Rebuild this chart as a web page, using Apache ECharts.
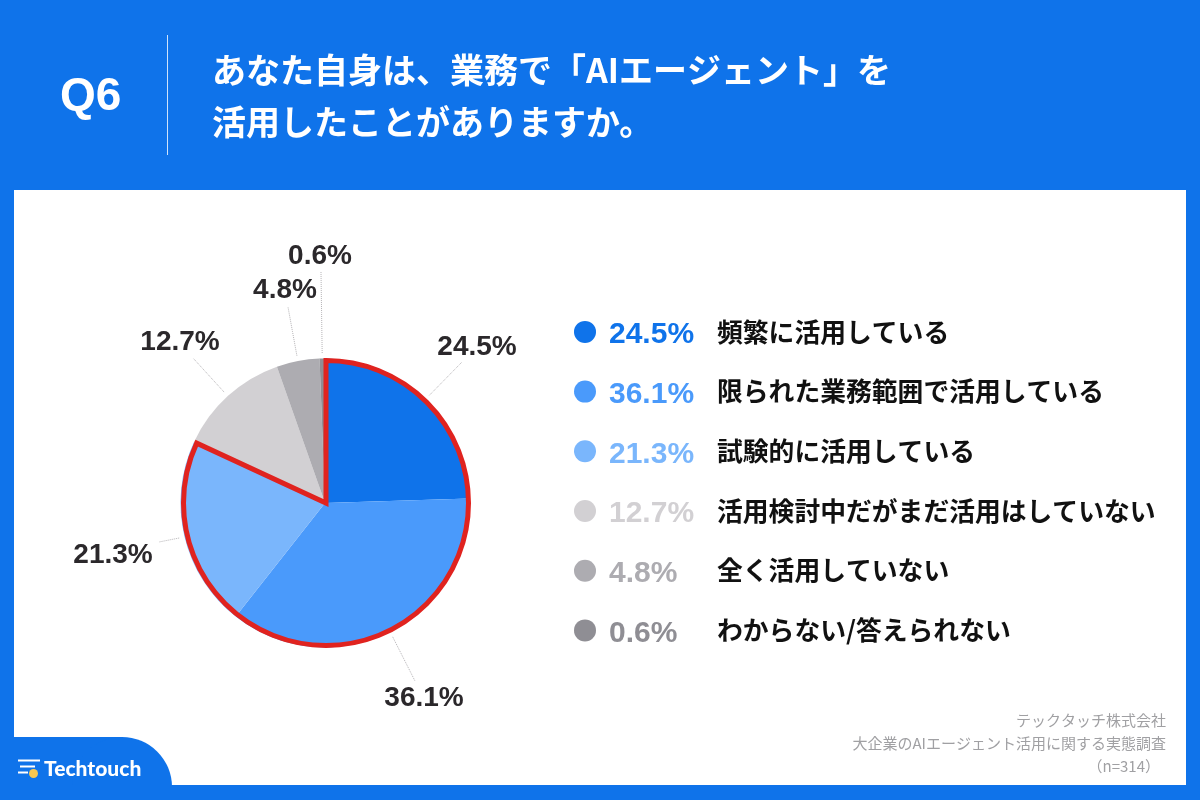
<!DOCTYPE html>
<html>
	<head>
		<meta charset="UTF-8">
		<title>Q6</title>
		<style>
			html, body { margin: 0; padding: 0; background: #0f73ea; }
			#main { width: 1200px; height: 800px; }
		</style>
	</head>
	<body>
		<div id="main"></div>
		<script src="https://cdn.jsdelivr.net/npm/echarts@6/dist/echarts.min.js"></script>
		<script type="text/javascript">
			// data
			var categories = ['頻繁に活用している', '限られた業務範囲で活用している', '試験的に活用している', '活用検討中だがまだ活用はしていない', '全く活用していない', 'わからない/答えられない'];
			var values = [24.5, 36.1, 21.3, 12.7, 4.8, 0.6];
			var colors = ['#0f73ea', '#4a9afb', '#7ab6fc', '#d2d0d3', '#adacb1', '#8f8e94'];
			// 赤枠で囲むのは先頭3項目
			var usingCount = 3;

			var FONT = '"Liberation Sans", "Noto Sans CJK JP", sans-serif';
			var JP = '"Noto Sans CJK JP", sans-serif';

			// ラベルの中心位置と引き出し線の終点
			var labelCenters = [[477, 347], [424, 698], [113, 555], [180, 342], [285, 290], [320, 256]];
			var lineEnds = [[462, 362], [415, 681], [159, 542], [193, 358], [288, 307], [321, 272]];

			var usingTotal = 0;
			for (var i = 0; i < usingCount; i++) usingTotal += values[i];
			var restTotal = 0;
			for (var j = usingCount; j < values.length; j++) restTotal += values[j];
			var allTotal = usingTotal + restTotal;

			var pieData = categories.map(function (name, i) {
				return { name: name, value: values[i], itemStyle: { color: colors[i] } };
			});

			// 扇形の中央角の方向から引き出し線の始点を求める
			function lineStart(idx) {
				var before = 0;
				for (var k = 0; k < idx; k++) before += values[k];
				var a = (before + values[idx] / 2) / allTotal * Math.PI * 2;
				return [325 + 150 * Math.sin(a), 503 - 150 * Math.cos(a)];
			}

			// 凡例の文字色は項目ごと
			var legendRich = { name: { fontFamily: JP, fontSize: 25.8, fontWeight: 'bold', color: '#111111' } };
			colors.forEach(function (c, i) {
				legendRich['p' + i] = { fontFamily: FONT, fontSize: 30, fontWeight: 'bold', color: c, width: 108, padding: [6, 0, 0, 8] };
			});

			var myChart = echarts.init(document.getElementById('main'));
			var option = {
				backgroundColor: '#0f73ea',
				animation: false,
				textStyle: { fontFamily: FONT },
				legend: {
					orient: 'vertical',
					left: 569,
					top: 314,
					itemWidth: 22,
					itemHeight: 22,
					itemGap: 28.8,
					icon: 'circle',
					selectedMode: false,
					data: categories,
					formatter: function (name) {
						var idx = categories.indexOf(name);
						return '{p' + idx + '|' + values[idx].toFixed(1) + '%}{name|' + name + '}';
					},
					textStyle: { rich: legendRich }
				},
				series: [
					{
						name: 'Q6',
						type: 'pie',
						center: [325, 503],
						radius: [0, 144.5],
						startAngle: 90,
						clockwise: true,
						z: 3,
						data: pieData,
						label: {
							show: true,
							formatter: function (p) { return values[p.dataIndex].toFixed(1) + '%'; },
							fontFamily: FONT,
							fontSize: 28,
							fontWeight: 'bold',
							color: '#2b282b'
						},
						labelLine: {
							show: true,
							lineStyle: { color: '#b5b3b6', width: 1, type: 'dotted' }
						},
						labelLayout: function (p) {
							var idx = p.dataIndex;
							var s = lineStart(idx);
							var e = lineEnds[idx];
							return {
								x: labelCenters[idx][0],
								y: labelCenters[idx][1],
								align: 'center',
								verticalAlign: 'middle',
								hideOverlap: false,
								labelLinePoints: [s, [(s[0] + e[0]) / 2, (s[1] + e[1]) / 2], e]
							};
						}
					},
					{
						// 赤枠
						name: 'outline',
						type: 'pie',
						center: [326, 503],
						radius: [0, 142.5],
						startAngle: 90,
						clockwise: true,
						silent: true,
						z: 5,
						label: { show: false },
						labelLine: { show: false },
						data: [
							{ name: 'using', value: usingTotal, itemStyle: { color: 'rgba(0,0,0,0)', borderColor: '#e0231f', borderWidth: 5, borderJoin: 'miter' } },
							{ name: 'rest', value: restTotal, itemStyle: { color: 'rgba(0,0,0,0)', borderWidth: 0 } }
						]
					}
				],
				graphic: [
					{ type: 'rect', z: 0, shape: { x: 14, y: 190, width: 1172, height: 595 }, style: { fill: '#ffffff' } },
					{ type: 'line', z: 1, shape: { x1: 167.5, y1: 35, x2: 167.5, y2: 155 }, style: { stroke: '#ffffff', lineWidth: 1, opacity: 0.8 } },
					{ type: 'text', z: 1, x: 60, y: 97, style: { text: 'Q6', fill: '#fff', font: 'bold 46px ' + FONT, verticalAlign: 'middle' } },
					{ type: 'text', z: 1, x: 212, y: 70, style: { text: 'あなた自身は、業務で「AIエージェント」を', fill: '#fff', font: 'bold 34px ' + JP, verticalAlign: 'middle' } },
					{ type: 'text', z: 1, x: 212, y: 122, style: { text: '活用したことがありますか。', fill: '#fff', font: 'bold 34px ' + JP, verticalAlign: 'middle' } },
					// 左下のタブとロゴ
					{ type: 'rect', z: 1, shape: { x: 0, y: 737, width: 122, height: 63 }, style: { fill: '#0f73ea' } },
					{ type: 'circle', z: 1, shape: { cx: 122, cy: 787, r: 50 }, style: { fill: '#0f73ea' } },
					{ type: 'rect', z: 1, shape: { x: 0, y: 785, width: 1200, height: 15 }, style: { fill: '#0f73ea' } },
					{ type: 'line', z: 2, shape: { x1: 18, y1: 760.5, x2: 40, y2: 760.5 }, style: { stroke: '#fff', lineWidth: 2 } },
					{ type: 'line', z: 2, shape: { x1: 20, y1: 766.5, x2: 35, y2: 766.5 }, style: { stroke: '#fff', lineWidth: 2 } },
					{ type: 'line', z: 2, shape: { x1: 18, y1: 772.5, x2: 28, y2: 772.5 }, style: { stroke: '#fff', lineWidth: 2 } },
					{ type: 'circle', z: 2, shape: { cx: 33.5, cy: 773.5, r: 4.5 }, style: { fill: '#f9c74f' } },
					{ type: 'text', z: 2, x: 44, y: 769, style: { text: 'Techtouch', fill: '#fff', font: '900 21px Lato, ' + FONT, verticalAlign: 'middle' } },
					// 出典
					{ type: 'text', z: 1, x: 1166, y: 720, style: { text: 'テックタッチ株式会社', fill: '#a0a0a3', font: '15px ' + JP, align: 'right', verticalAlign: 'middle' } },
					{ type: 'text', z: 1, x: 1166, y: 743, style: { text: '大企業のAIエージェント活用に関する実態調査', fill: '#a0a0a3', font: '15px ' + JP, align: 'right', verticalAlign: 'middle' } },
					{ type: 'text', z: 1, x: 1160, y: 766, style: { text: '（n=314）', fill: '#a0a0a3', font: '15px ' + JP, align: 'right', verticalAlign: 'middle' } }
				]
			};
			myChart.setOption(option);
		</script>
	</body>
</html>
